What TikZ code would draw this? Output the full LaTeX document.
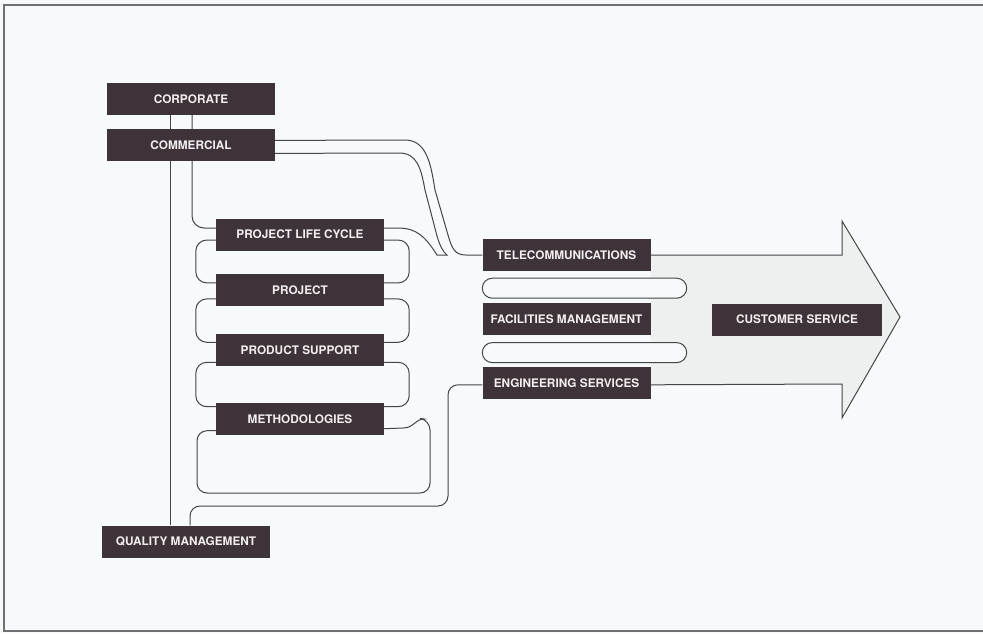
\documentclass[tikz,border=0pt]{standalone}
\usepackage{fontspec}
\setsansfont{TeX Gyre Heros}
\usetikzlibrary{positioning}
\definecolor{PaperTint}{HTML}{F6FAFA}
\definecolor{ArrowTint}{HTML}{EDF0EF}
\definecolor{UnitFill}{HTML}{3E3338}
\definecolor{UnitText}{HTML}{F2EEF0}
\definecolor{LinkGray}{HTML}{454545}
\definecolor{FrameGray}{HTML}{707070}
\pgfdeclarelayer{paper}
\pgfdeclarelayer{links}
\pgfsetlayers{paper,links,main}

\begin{document}
\begin{tikzpicture}[x=1pt,y=-1pt,line join=round]
  \tikzstyle{unitbox}=[fill=UnitFill,text=UnitText,inner sep=0pt,
    minimum width=168pt,minimum height=32pt,
    font=\sffamily\bfseries\fontsize{11.8}{12}\selectfont]
  \tikzstyle{link}=[draw=LinkGray,line width=1pt]
  \useasboundingbox (0,0) rectangle (983,633);
  \node[unitbox] (corp) at (191,99) {CORPORATE};
  \node[unitbox,below=14pt of corp] (comm) {COMMERCIAL};
  \node[unitbox] (plc) at (300,234.5) {PROJECT LIFE CYCLE};
  \node[unitbox,below=23pt of plc] (proj) {PROJECT};
  \node[unitbox,below=28pt of proj] (supp) {PRODUCT SUPPORT};
  \node[unitbox,below=36pt of supp] (meth) {METHODOLOGIES};
  \node[unitbox] (qm) at (186,541.5) {QUALITY MANAGEMENT};
  \node[unitbox] (tele) at (566.5,255) {TELECOMMUNICATIONS};
  \node[unitbox,below=32pt of tele] (fac) {FACILITIES MANAGEMENT};
  \node[unitbox,below=31pt of fac] (eng) {ENGINEERING SERVICES};
  \node[unitbox,minimum width=170pt] (cust) at (797,319.5) {CUSTOMER SERVICE};
  \begin{pgfonlayer}{paper}
    \fill[PaperTint] (0,0) rectangle (983,633);
    \draw[FrameGray,line width=1.6pt] (983,5) -- (4,5) -- (4,631) -- (983,631);
    \fill[ArrowTint] (tele.east) -- (842,255) -- (842,221) -- (900,317)
      -- (842,418) -- (842,384) -- ([yshift=-2pt]eng.east) -- cycle;
  \end{pgfonlayer}
  \begin{pgfonlayer}{links}
    \draw[link] ([xshift=-21pt]corp.south) -- ([xshift=-21pt]corp.south |- qm.north);
    \draw[link,rounded corners=12pt] ([xshift=1pt]corp.south) |- ([yshift=6.5pt]plc.west);
    \foreach \a/\b/\u/\v in {plc/proj/-5.5/7,proj/supp/-9/8,supp/meth/-12/12}
      \draw[link,rounded corners=11pt] ([xshift=-20pt,yshift=\u pt]\a.west)
        rectangle ([xshift=25pt,yshift=\v pt]\b.east);
    \draw[link,rounded corners=10pt] ([yshift=-12pt]meth.west) -| (197,493) -| (430,420)
      [sharp corners] -- (424,419) .. controls (415,419) and (414,428) .. (403,428)
      -- ([yshift=-10pt]meth.east);
    \draw[link] ([yshift=5pt]comm.east) -- (405,140)
      .. controls (427,140) and (431,165) .. (435,190) -- (448,235)
      .. controls (452,249) and (455,255) .. (466,255) -- (tele.west);
    \draw[link] ([yshift=-8pt]comm.east) -- (399,153)
      .. controls (417,153) and (421,168) .. (425,190) -- (437,236)
      .. controls (440,246) and (443,252) .. (447,255) -- (437,255)
      .. controls (425,236) and (416,228) .. (398,228) -- ([yshift=6.5pt]plc.east);
    \draw[link,rounded corners=10pt] ([xshift=4pt]qm.north) |- (448,506)
      |- ([yshift=-2pt]eng.west);
    \draw[link] (tele.east) -- (842,255) -- (842,221) -- (900,317) -- (842,418)
      -- (842,384) -- ([yshift=-2pt]eng.east);
    \foreach \a in {tele,fac}
      \draw[link,fill=PaperTint,rounded corners=10pt] ([yshift=-7pt]\a.south west)
        rectangle ([xshift=36pt,yshift=-27pt]\a.south east);
  \end{pgfonlayer}
\end{tikzpicture}
\end{document}
